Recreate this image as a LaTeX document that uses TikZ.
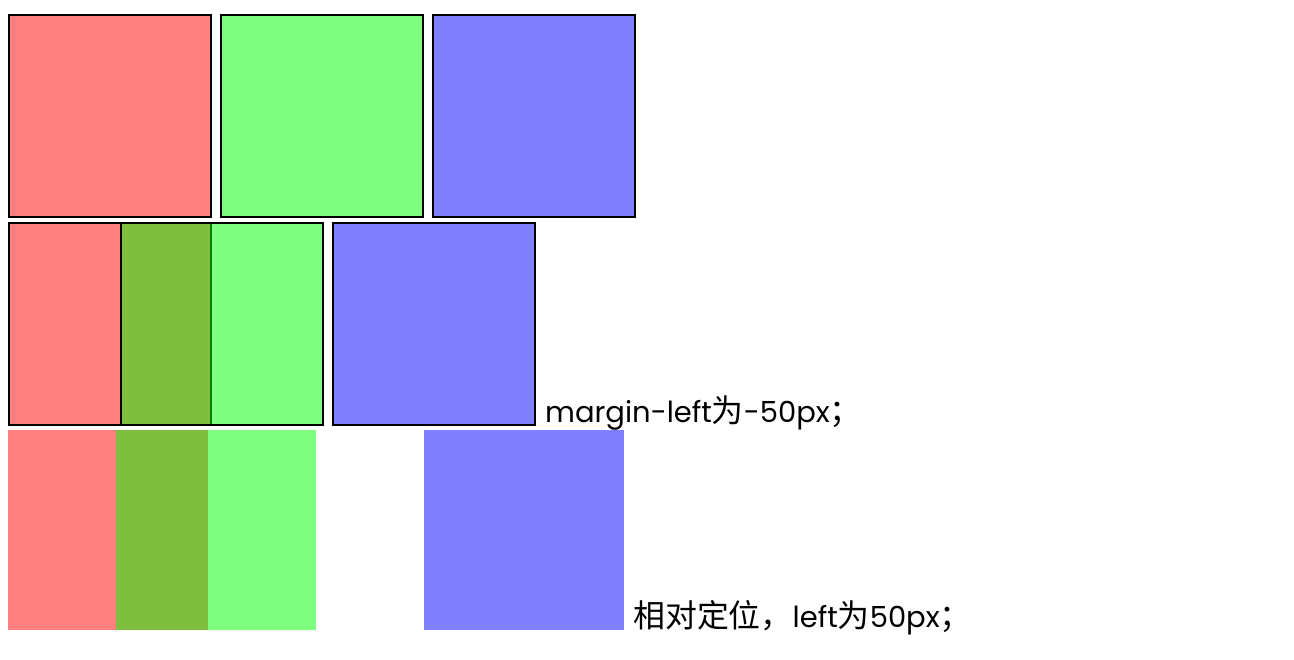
\documentclass[tikz,border=0pt]{standalone}
\usepackage{fontspec}
\setmainfont{Poppins}
\newfontfamily\cjk[Scale=1.1]{Noto Sans CJK SC}
\tikzset{
  box/.style={rectangle, inner sep=0pt, minimum width=#1, minimum height=#1, fill opacity=0.5, draw opacity=1},
  lined/.style={box=202pt, draw=black, line width=2pt},
  plain/.style={box=200pt},
  note/.style={anchor=base west, inner sep=0pt, font=\fontsize{29}{34}\selectfont}
}

\begin{document}
\begin{tikzpicture}[x=1pt, y=-1pt]
\useasboundingbox (0,0) rectangle (1294,660);
% row 1
\node[lined, fill=red]   (r1) at (110,116) {};
\node[lined, fill=green] (g1) at (322,116) {};
\node[lined, fill=blue]  (b1) at (534,116) {};
% row 2
\node[lined, fill=red]   (r2) at (110,324) {};
\node[lined, fill=green] (g2) at (222,324) {};
\node[lined, fill=blue]  (b2) at (434,324) {};
\node[note] (t2) at (545,422) {margin-left{\cjk 为}-50px{\cjk ；}};
% row 3
\node[plain, fill=red]   (r3) at (108,530) {};
\node[plain, fill=green] (g3) at (216,530) {};
\node[plain, fill=blue]  (b3) at (524,530) {};
\node[note] (t3) at (633,627) {{\cjk 相对定位，}left{\cjk 为}50px{\cjk ；}};
\end{tikzpicture}
\end{document}
